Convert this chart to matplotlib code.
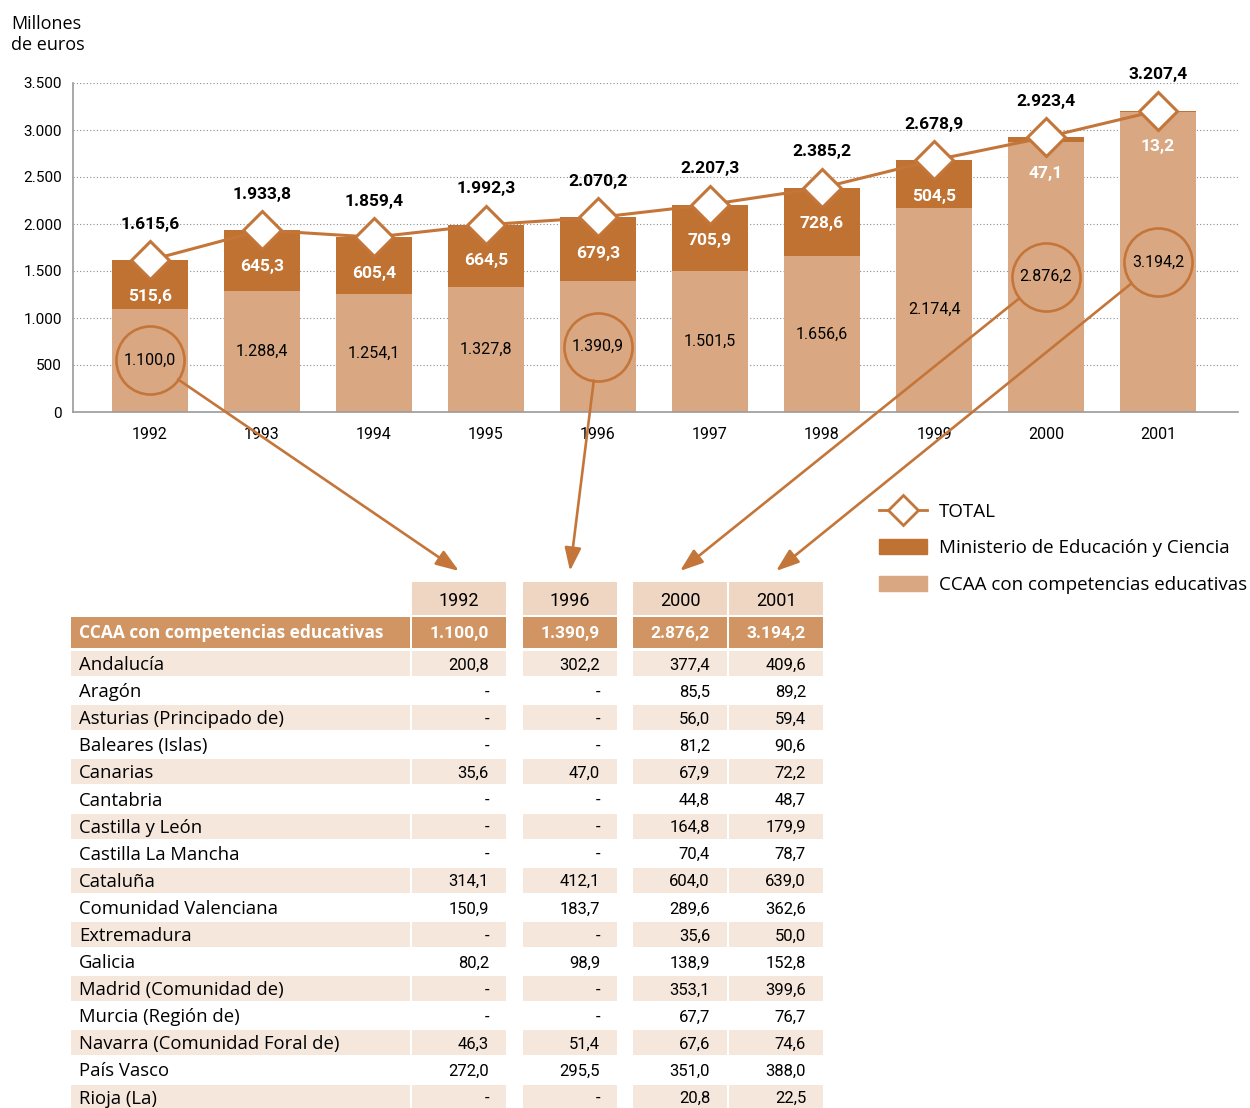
import matplotlib
matplotlib.use('Agg')
import matplotlib.pyplot as plt
from matplotlib.patches import Rectangle, Patch, ConnectionPatch
from matplotlib.lines import Line2D

W, H = 1250, 1108

years = ['1992', '1993', '1994', '1995', '1996', '1997', '1998', '1999', '2000', '2001']
ccaa = [1100.0, 1288.4, 1254.1, 1327.8, 1390.9, 1501.5, 1656.6, 2174.4, 2876.2, 3194.2]
mec = [515.6, 645.3, 605.4, 664.5, 679.3, 705.9, 728.6, 504.5, 47.1, 13.2]
total = [1615.6, 1933.8, 1859.4, 1992.3, 2070.2, 2207.3, 2385.2, 2678.9, 2923.4, 3207.4]
circled = ['1992', '1996', '2000', '2001']

regions = ['Andalucía', 'Aragón', 'Asturias (Principado de)', 'Baleares (Islas)',
           'Canarias', 'Cantabria', 'Castilla y León', 'Castilla La Mancha',
           'Cataluña', 'Comunidad Valenciana', 'Extremadura', 'Galicia',
           'Madrid (Comunidad de)', 'Murcia (Región de)',
           'Navarra (Comunidad Foral de)', 'País Vasco', 'Rioja (La)']
r1992 = [200.8, None, None, None, 35.6, None, None, None, 314.1, 150.9, None, 80.2, None, None, 46.3, 272.0, None]
r1996 = [302.2, None, None, None, 47.0, None, None, None, 412.1, 183.7, None, 98.9, None, None, 51.4, 295.5, None]
r2000 = [377.4, 85.5, 56.0, 81.2, 67.9, 44.8, 164.8, 70.4, 604.0, 289.6, 35.6, 138.9, 353.1, 67.7, 67.6, 351.0, 20.8]
r2001 = [409.6, 89.2, 59.4, 90.6, 72.2, 48.7, 179.9, 78.7, 639.0, 362.6, 50.0, 152.8, 399.6, 76.7, 74.6, 388.0, 22.5]
table_cols = [r1992, r1996, r2000, r2001]

DARK = '#C07232'
LIGHT = '#D9A882'
LINE = '#C4763A'
HEAD = '#EFD6C3'
CCAA_ROW = '#D09563'
SHADE = '#F6E7DD'
NUM = ['Roboto', 'DejaVu Sans']
TXT = ['Open Sans', 'DejaVu Sans']


def fmt(v, nd=1):
    if v is None:
        return '-'
    s = f'{v:,.{nd}f}'
    return s.replace(',', '#').replace('.', ',').replace('#', '.')


fig = plt.figure(figsize=(W / 100, H / 100), dpi=100)

# ---- chart ----
ax = fig.add_axes([73 / W, 1 - 412 / H, (1238 - 73) / W, (412 - 83) / H])
x = list(range(len(years)))
ax.bar(x, ccaa, 0.68, color=LIGHT, zorder=2)
ax.bar(x, mec, 0.68, bottom=ccaa, color=DARK, zorder=2)
ax.plot(x, total, color=LINE, lw=2.2, marker='D', ms=19, mfc='white',
        mec=LINE, mew=2.2, zorder=4)

ax.set_xlim(-0.6875, 9.714)
ax.set_ylim(0, 3500)
ax.set_yticks(range(0, 3501, 500))
ax.set_yticklabels([fmt(v, 0) for v in range(0, 3501, 500)], family=NUM, fontsize=11)
ax.set_xticks(x)
ax.set_xticklabels(years, family=NUM, fontsize=11.5)
ax.tick_params(length=0)
ax.tick_params(axis='y', pad=8)
ax.tick_params(axis='x', pad=11)
ax.yaxis.grid(True, ls=(0, (1, 2)), color='#8c8c8c', lw=0.8)
ax.set_axisbelow(True)
for s in ['top', 'right']:
    ax.spines[s].set_visible(False)
for s in ['left', 'bottom']:
    ax.spines[s].set_color('#9a9a9a')
    ax.spines[s].set_linewidth(1.2)

for i in x:
    ax.annotate(fmt(total[i]), (i, total[i]), xytext=(0, 26), textcoords='offset points',
                ha='center', va='center', family=NUM, fontsize=12.5, fontweight='bold', zorder=6)
    ax.annotate(fmt(mec[i]), (i, total[i]), xytext=(0, -26), textcoords='offset points',
                ha='center', va='center', family=NUM, fontsize=12.5, fontweight='bold',
                color='white', zorder=3)
    ax.text(i, ccaa[i] / 2, fmt(ccaa[i]), ha='center', va='center', family=NUM,
            fontsize=11.5, zorder=3)
    if years[i] in circled:
        ax.plot([i], [ccaa[i] / 2], 'o', ms=49, mfc='none', mec=LINE, mew=1.9, zorder=5)

fig.text(11 / W, 1 - 15 / H, 'Millones\nde euros', va='top', ha='left',
         family=TXT, fontsize=13, linespacing=1.25)

# ---- legend ----
handles = [Line2D([], [], color=LINE, lw=2, marker='D', ms=15, mfc='white', mec=LINE, mew=2),
           Patch(color=DARK), Patch(color=LIGHT)]
labels = ['TOTAL', 'Ministerio de Educación y Ciencia', 'CCAA con competencias educativas']
fig.legend(handles, labels, loc='upper left', bbox_to_anchor=(879 / W, 1 - 503 / H),
           frameon=False, prop={'family': TXT, 'size': 13.5}, handlelength=2.55,
           handleheight=0.85, labelspacing=0.98, handletextpad=0.65, borderpad=0, borderaxespad=0)

# ---- table ----
ov = fig.add_axes([0, 0, 1, 1])
ov.set_xlim(0, W)
ov.set_ylim(H, 0)
ov.axis('off')
ov.patch.set_alpha(0)

lab_x0, lab_x1 = 71, 410
col_edges = [(412, 506), (523, 617), (633, 727), (729, 823)]
head_y0, head_y1 = 582, 615
ccaa_y0, ccaa_y1 = 617, 648
row_y0, row_pitch, row_h = 651, 27.1, 25

for (c0, c1), yr in zip(col_edges, circled):
    ov.add_patch(Rectangle((c0, head_y0), c1 - c0, head_y1 - head_y0, color=HEAD, lw=0))
    ov.text((c0 + c1) / 2, (head_y0 + head_y1) / 2 + 2, yr, ha='center', va='center',
            family=NUM, fontsize=13)

ov.add_patch(Rectangle((lab_x0, ccaa_y0), lab_x1 - lab_x0, ccaa_y1 - ccaa_y0, color=CCAA_ROW, lw=0))
ov.text(lab_x0 + 8, (ccaa_y0 + ccaa_y1) / 2, 'CCAA con competencias educativas', ha='left',
        va='center', family=TXT, fontsize=12.5, fontweight='bold', color='white')
for (c0, c1), yr in zip(col_edges, circled):
    ov.add_patch(Rectangle((c0, ccaa_y0), c1 - c0, ccaa_y1 - ccaa_y0, color=CCAA_ROW, lw=0))
    ov.text(c1 - 17, (ccaa_y0 + ccaa_y1) / 2 + 1, fmt(ccaa[years.index(yr)]), ha='right',
            va='center', family=NUM, fontsize=12.5, fontweight='bold', color='white')

for r, name in enumerate(regions):
    y0 = row_y0 + r * row_pitch
    yc = y0 + row_h / 2
    if r % 2 == 0:
        ov.add_patch(Rectangle((lab_x0, y0), lab_x1 - lab_x0, row_h, color=SHADE, lw=0))
        for c0, c1 in col_edges:
            ov.add_patch(Rectangle((c0, y0), c1 - c0, row_h, color=SHADE, lw=0))
    ov.text(lab_x0 + 8, yc + 1.5, name, ha='left', va='center', family=TXT, fontsize=13.3)
    for (c0, c1), vals in zip(col_edges, table_cols):
        ov.text(c1 - 17, yc + 1.5, fmt(vals[r]), ha='right', va='center', family=NUM, fontsize=12)

# ---- arrows from circled bars to table columns ----
for (c0, c1), yr in zip(col_edges, circled):
    i = years.index(yr)
    arr = ConnectionPatch(xyA=(i, ccaa[i] / 2), coordsA=ax.transData,
                          xyB=((c0 + c1) / 2, 571), coordsB=ov.transData,
                          arrowstyle='-|>,head_length=14,head_width=5', mutation_scale=1,
                          shrinkA=24.5, shrinkB=0, color=LINE, lw=1.9)
    fig.add_artist(arr)

fig.savefig('out.png', dpi=100)
